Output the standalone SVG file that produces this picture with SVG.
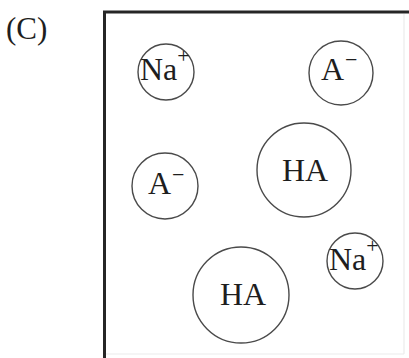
<svg xmlns="http://www.w3.org/2000/svg" width="409" height="358" viewBox="0 0 409 358">
<style>
.p{fill:none;stroke:#4a4a4a;stroke-width:1.4}
.t{font-family:"Liberation Serif","Times New Roman",serif;font-size:32px;fill:#1e1e1e}
.s{font-size:22px}
</style>
<rect width="409" height="358" fill="#fff"/>
<text class="t" x="6" y="39" style="font-size:31px">(C)</text>
<g id="frame">
<path d="M404 14V354M106 354H404" fill="none" stroke="#ececec" stroke-width="1.2"/>
<path d="M104.5 358V12H409" fill="none" stroke="#262626" stroke-width="3"/>
</g>
<g id="na1"><circle class="p" cx="166" cy="72" r="28"/><text class="t" x="140" y="80">Na<tspan class="s" dx="0" dy="-17">+</tspan></text></g>
<g id="a1"><circle class="p" cx="341" cy="73" r="32"/><text class="t" x="321" y="80">A<tspan class="s" dx="1" dy="-13">−</tspan></text></g>
<g id="a2"><circle class="p" cx="165" cy="186" r="33"/><text class="t" x="148" y="194">A<tspan class="s" dx="1" dy="-12">−</tspan></text></g>
<g id="ha1"><circle class="p" cx="304" cy="170" r="47"/><text class="t" x="305" y="181" text-anchor="middle">HA</text></g>
<g id="ha2"><circle class="p" cx="241" cy="295" r="48"/><text class="t" x="243" y="305" text-anchor="middle">HA</text></g>
<g id="na2"><circle class="p" cx="355" cy="261" r="28"/><text class="t" x="329" y="270">Na<tspan class="s" dx="0" dy="-17">+</tspan></text></g>
<g id="connectors"/>
</svg>
